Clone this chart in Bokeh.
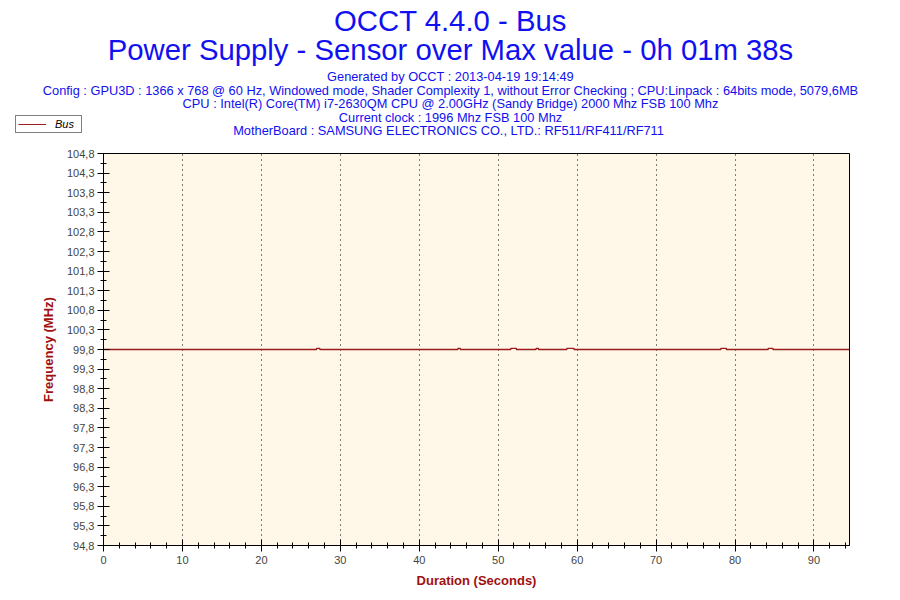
from bokeh.plotting import figure
from bokeh.models import FixedTicker, Range1d, Title, Legend, LegendItem
from bokeh.layouts import column
from bokeh.embed import file_html
from bokeh.resources import INLINE

# Data (change points of the Bus frequency, step-like)
times = [0, 27.0, 27.4, 44.9, 45.2, 51.6, 52.3, 54.8, 55.1, 58.7, 59.6, 78.2, 78.9, 84.2, 84.8, 94.5]
bus_mhz = [99.80, 99.83, 99.80, 99.83, 99.80, 99.83, 99.80, 99.83, 99.80, 99.83, 99.80, 99.83, 99.80, 99.83, 99.80, 99.80]

y_ticks = [94.8, 95.3, 95.8, 96.3, 96.8, 97.3, 97.8, 98.3, 98.8, 99.3, 99.8,
           100.3, 100.8, 101.3, 101.8, 102.3, 102.8, 103.3, 103.8, 104.3, 104.8]
y_minor = [94.8 + 0.25 * i for i in range(41)]
x_ticks = [0, 10, 20, 30, 40, 50, 60, 70, 80, 90]
x_minor = list(range(0, 95, 2))

title_main = "OCCT 4.4.0 - Bus"
title_sub = "Power Supply - Sensor over Max value - 0h 01m 38s"
info_lines = [
    "Generated by OCCT : 2013-04-19 19:14:49",
    "Config : GPU3D : 1366 x 768 @ 60 Hz, Windowed mode, Shader Complexity 1, without Error Checking ; CPU:Linpack : 64bits mode, 5079,6MB",
    "CPU : Intel(R) Core(TM) i7-2630QM CPU @ 2.00GHz (Sandy Bridge) 2000 Mhz FSB 100 Mhz",
    "Current clock : 1996 Mhz FSB 100 Mhz",
    "MotherBoard : SAMSUNG ELECTRONICS CO., LTD.: RF511/RF411/RF711",
]
series_name = "Bus"

FONT = "Liberation Sans"
BLUE = "#1010F0"
RED = "#A01010"
LINE = "#9B1B1B"

W, H = 900, 600
FL, FR, FT, FB = 103, 849, 153, 545   # frame edges in page pixels

# Arial / Liberation Sans advance widths (per 1000 em) used to centre titles on the page
_AW = {" ": 278, "(": 333, ")": 333, ",": 278, "-": 333, ".": 278, "/": 278, ":": 278, ";": 278,
       "@": 1015, "0": 556, "1": 556, "2": 556, "3": 556, "4": 556, "5": 556, "6": 556, "7": 556,
       "8": 556, "9": 556, "A": 667, "B": 667, "C": 722, "D": 722, "E": 667, "F": 611, "G": 778,
       "H": 722, "I": 278, "J": 500, "K": 667, "L": 556, "M": 833, "N": 722, "O": 778, "P": 667,
       "Q": 778, "R": 722, "S": 667, "T": 611, "U": 722, "V": 667, "W": 944, "X": 667, "Y": 667,
       "Z": 611, "a": 556, "b": 556, "c": 500, "d": 556, "e": 556, "f": 278, "g": 556, "h": 556,
       "i": 222, "j": 222, "k": 500, "l": 222, "m": 833, "n": 556, "o": 556, "p": 556, "q": 556,
       "r": 333, "s": 500, "t": 278, "u": 556, "v": 500, "w": 722, "x": 500, "y": 500, "z": 500}


def width_em(s):
    return sum(_AW.get(c, 556) for c in s) / 1000.0


BIG = round(685 / width_em(title_sub), 1)       # sub-title spans ~685 px in the reference
SMALL = round(816 / width_em(info_lines[1]), 1)  # config line spans ~816 px


def centred_title(text, size, standoff, color=BLUE):
    w = width_em(text) * size
    return Title(text=text, align="left", offset=450 - FL - w / 2, text_font=FONT,
                 text_font_size=f"{size}px", text_font_style="normal", text_color=color,
                 standoff=standoff)


p = figure(width=W, height=H, output_backend="svg", toolbar_location=None,
           x_range=Range1d(0, 94.5), y_range=Range1d(94.8, 104.8),
           min_border_left=FL, min_border_right=W - FR, min_border_bottom=H - FB,
           min_border_top=FT)
p.title.visible = False
p.background_fill_color = "#FFF8E8"
p.border_fill_color = "white"
p.outline_line_color = "black"
p.outline_line_width = 1

r = p.step(times, bus_mhz, mode="after", line_color=LINE, line_width=1.3)

# Title stack (nearest the frame first): spacer, info lines, sub-title, main title
p.add_layout(centred_title(" ", SMALL, 0, color="white"), "above")
info_standoffs = [-3, -4, -3, -4, -3]          # MotherBoard ... Generated
for line, so in zip(reversed(info_lines), info_standoffs):
    p.add_layout(centred_title(line, SMALL, so), "above")
p.add_layout(centred_title(title_sub, BIG, 5), "above")
p.add_layout(centred_title(title_main, BIG, -17), "above")

# Axes
p.yaxis.ticker = FixedTicker(ticks=y_ticks, minor_ticks=y_minor)
p.yaxis.major_label_overrides = {v: ("%.1f" % v).replace(".", ",") for v in y_ticks}
p.xaxis.ticker = FixedTicker(ticks=x_ticks, minor_ticks=x_minor)
for ax in (p.xaxis, p.yaxis):
    ax.axis_line_color = "black"
    ax.major_tick_line_color = "black"
    ax.minor_tick_line_color = "black"
    ax.major_tick_in = 6
    ax.major_tick_out = 6
    ax.minor_tick_in = 3
    ax.minor_tick_out = 3
    ax.major_label_text_font = "Liberation Sans"
    ax.major_label_text_font_size = "11px"
    ax.major_label_text_color = "#444444"
    ax.axis_label_text_font = "Liberation Sans"
    ax.axis_label_text_font_size = "13px"
    ax.axis_label_text_font_style = "bold"
    ax.axis_label_text_color = RED
p.xaxis.axis_label = "Duration (Seconds)"
p.yaxis.axis_label = "Frequency (MHz)"
p.xaxis.major_label_standoff = 4
p.yaxis.major_label_standoff = 3
p.xaxis.axis_label_standoff = 6
p.yaxis.axis_label_standoff = 8

p.xgrid.ticker = FixedTicker(ticks=x_ticks)
p.xgrid.grid_line_color = "black"
p.xgrid.grid_line_dash = "1 4"
p.xgrid.grid_line_width = 1
p.ygrid.grid_line_color = None

# Legend: a small transparent figure laid over the page's top-left corner.
# Its (invisible) renderer carries the series' line style for the legend sample.
LW, LH = 80, 20
LX, LY = 13, 115
lf = figure(width=LW, height=LH, output_backend="svg", toolbar_location=None,
            x_axis_type=None, y_axis_type=None, min_border=0,
            x_range=Range1d(-20, -10), y_range=Range1d(0, 1),
            margin=(LY - H, 0, H - LY - LH, LX))
lf.outline_line_color = None
lf.background_fill_alpha = 0
lf.border_fill_alpha = 0
lf.xgrid.visible = False
lf.ygrid.visible = False
lr = lf.line(x=times, y=bus_mhz, line_color=LINE, line_width=1)
legend = Legend(items=[LegendItem(label=series_name, renderers=[lr])],
                location="top_left", orientation="vertical",
                label_text_font="Liberation Sans", label_text_font_size="11px",
                label_text_font_style="italic", label_text_color="black",
                border_line_color="black", border_line_width=1,
                background_fill_color="white", background_fill_alpha=1,
                glyph_width=28, glyph_height=10, padding=2, spacing=0,
                label_standoff=9, label_width=24, margin=0, label_height=10)
lf.add_layout(legend, "center")

layout = column(p, lf, spacing=0)
open("out.html", "w").write(file_html(layout, INLINE))
